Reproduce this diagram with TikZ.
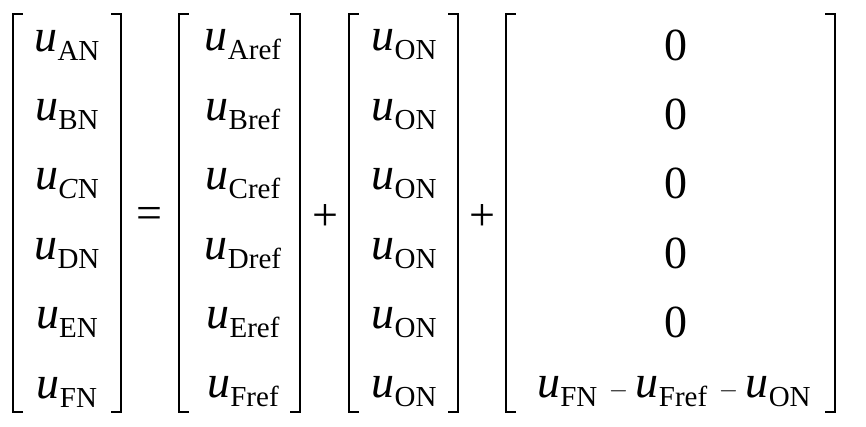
\documentclass[tikz,border=0pt]{standalone}
\usepackage{fontspec}
\setmainfont{Liberation Serif}
\newcommand{\uu}[1]{{\itshape u}\raisebox{-9pt}{\fontsize{29}{29}\selectfont #1}}
\begin{document}
\begin{tikzpicture}[x=1pt,y=1pt,
  el/.style={inner sep=0pt,font=\fontsize{46}{50}\selectfont},
  brk/.style={line width=2.4pt}]
\useasboundingbox (0,0) rectangle (866,426);
\foreach \cx/\l/\r in {0/13/121, 1/179/300, 2/349/458, 3/506/835}{
  \draw[brk] (\l+10,14) -- (\l,14) -- (\l,412) -- (\l+10,412);
  \draw[brk] (\r-10,14) -- (\r,14) -- (\r,412) -- (\r-10,412);
}
\foreach \i/\a/\b in {1/A/A,2/B/B,3/\textit{C}/C,4/D/D,5/E/E,6/F/F}{
  \pgfmathsetmacro\yy{426-(45+(\i-1)*69.4)}
  \node[el] (m1r\i) at (67,\yy) {\uu{\a N}};
  \node[el] (m2r\i) at (243,\yy) {\uu{\b ref}};
  \node[el] (m3r\i) at (404,\yy) {\uu{ON}};
}
\foreach \i in {1,...,5}{
  \pgfmathsetmacro\yy{426-(45+(\i-1)*69.4)}
  \node[el] (m4r\i) at (676,\yy) {0};
}
\node[el] (m4r6) at (674,426-392) {\uu{FN} $-$\,\uu{Fref} $-$\,\uu{ON}};
\node[el] (eq) at (149,426-218) {=};
\node[el] (p1) at (325,426-218) {+};
\node[el] (p2) at (482,426-218) {+};
\end{tikzpicture}
\end{document}
